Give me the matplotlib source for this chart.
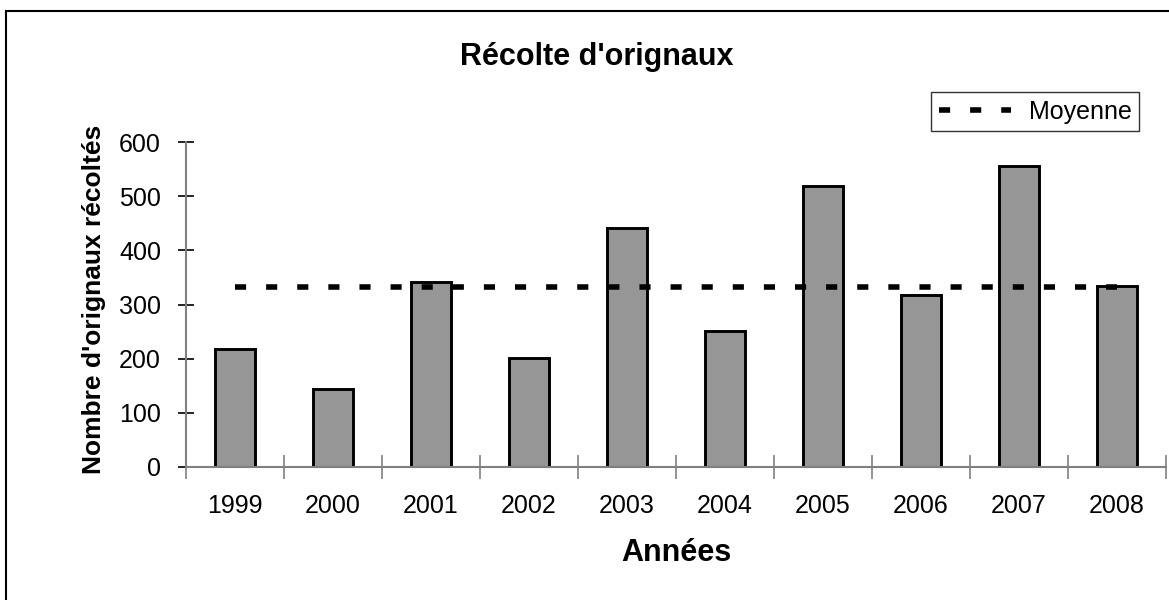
import numpy as np
import matplotlib
matplotlib.use("Agg")
import matplotlib.pyplot as plt
from matplotlib.patches import Rectangle

# data
annees = ["1999", "2000", "2001", "2002", "2003", "2004", "2005", "2006", "2007", "2008"]
recolte = [218, 143, 342, 201, 442, 251, 519, 318, 556, 334]
moyenne = np.mean(recolte)

plt.rcParams['font.family'] = ['Liberation Sans', 'DejaVu Sans']

W, H = 1169, 600
fig = plt.figure(figsize=(W / 100, H / 100), dpi=100)
ax = fig.add_axes([186 / W, 133.3 / H, 980 / W, 324.4 / H])

x = np.arange(len(annees))
ax.bar(x, recolte, width=0.4, color="#969696", edgecolor="black", linewidth=2.1, zorder=2)
ax.plot(x, [moyenne] * len(x), color="black", lw=4, linestyle=(0, (2, 3.6)),
        label="Moyenne", zorder=3)

ax.set_xlim(-0.5, len(annees) - 0.5)
ax.set_ylim(0, 600)
ax.set_yticks(range(0, 601, 100))

ax.set_xticks(x)
ax.set_xticklabels(annees)
ax.set_xticks(np.arange(-0.5, len(annees)), minor=True)
ax.tick_params(axis="x", which="major", length=0, pad=20, labelsize=18)
ax.tick_params(axis="x", which="minor", direction="inout", length=17, width=1.2, color="#808080")
ax.tick_params(axis="y", direction="inout", length=12, width=1.2, color="black", pad=12, labelsize=18)

for s in ["top", "right"]:
    ax.spines[s].set_visible(False)
for s in ["left", "bottom"]:
    ax.spines[s].set_color("#808080")
    ax.spines[s].set_linewidth(1.5)

ax.text(0.5, (466.7 - 553) / 324.4, "Années", transform=ax.transAxes,
        ha="center", va="center", fontsize=22, fontweight="bold")
ax.text((94 - 186) / 980, (466.7 - 299) / 324.4, "Nombre d'orignaux récoltés",
        transform=ax.transAxes, rotation=90, ha="center", va="center",
        fontsize=19, fontweight="bold")

fig.text(597 / W, 1 - 57 / H, "Récolte d'orignaux", ha="center", va="center",
         fontsize=22, fontweight="bold")

leg = ax.legend(loc="upper right", bbox_to_anchor=(1139 / W, 1 - 92 / H),
                bbox_transform=fig.transFigure, fontsize=18, frameon=True,
                fancybox=False, handlelength=2.9, handletextpad=0.7,
                borderpad=0.3, borderaxespad=0)
leg.get_frame().set_edgecolor("black")
leg.get_frame().set_linewidth(1.0)

fig.patches.append(Rectangle((5.5 / W, -0.1), 1.2, 1.1 - 10.7 / H, transform=fig.transFigure,
                             fill=False, edgecolor="black", linewidth=1.5))

fig.savefig("out.png", dpi=100)
